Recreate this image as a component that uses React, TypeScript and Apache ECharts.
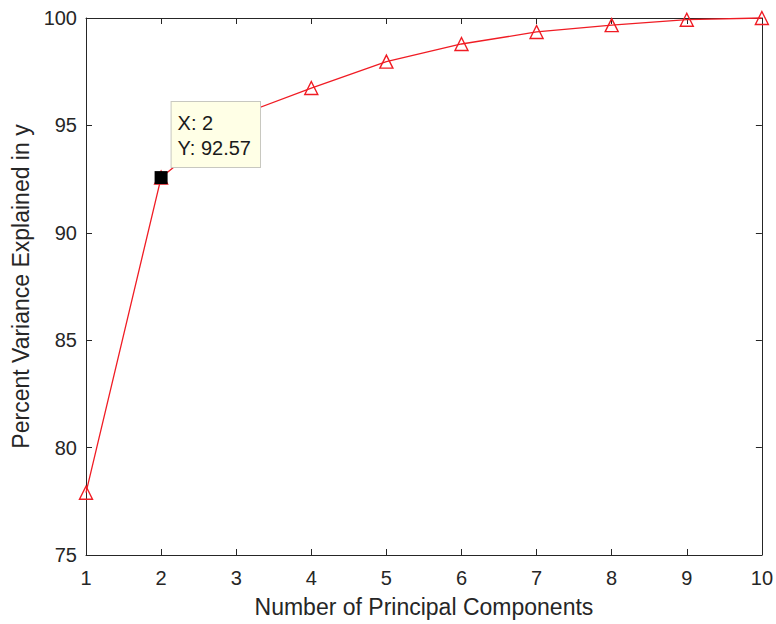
import React, { useEffect, useRef } from "react";
import * as echarts from "echarts";

const components = [1, 2, 3, 4, 5, 6, 7, 8, 9, 10];
const pctVariance = [77.9, 92.57, 95.42, 96.74, 97.97, 98.79, 99.35, 99.67, 99.92, 100];
const yTicks = { min: 75, max: 100, interval: 5 };
const xTicks = { min: 1, max: 10, interval: 1 };
const tipPoint = { x: 2, y: 92.57 };

const FONT = "'Liberation Sans', Arial, Helvetica, sans-serif";
const INK = "#262626";

export default function App() {
  const ref = useRef<HTMLDivElement>(null);
  useEffect(() => {
    if (!ref.current) return;
    const chart = echarts.init(ref.current, undefined, { renderer: "svg" });
    const axisCommon = {
      type: "value" as const,
      axisLine: { show: true, onZero: false, lineStyle: { color: INK, width: 1 } },
      axisTick: { show: true, inside: true, length: 6, lineStyle: { color: INK, width: 1 } },
      splitLine: { show: false },
    };
    chart.setOption({
      animation: false,
      backgroundColor: "#ffffff",
      textStyle: { fontFamily: FONT },
      grid: { left: 86, right: 9, top: 18, bottom: 69, containLabel: false },
      xAxis: [
        {
          ...axisCommon,
          position: "bottom",
          min: xTicks.min,
          max: xTicks.max,
          interval: xTicks.interval,
          name: "Number of Principal Components",
          nameLocation: "middle",
          nameGap: 40,
          nameTextStyle: { color: INK, fontSize: 23, fontFamily: FONT },
          axisLabel: { color: INK, fontSize: 20, margin: 13, fontFamily: FONT },
        },
        {
          ...axisCommon,
          position: "top",
          min: xTicks.min,
          max: xTicks.max,
          interval: xTicks.interval,
          axisLabel: { show: false },
        },
      ],
      yAxis: [
        {
          ...axisCommon,
          position: "left",
          min: yTicks.min,
          max: yTicks.max,
          interval: yTicks.interval,
          name: "Percent Variance Explained in y",
          nameLocation: "middle",
          nameGap: 52,
          nameTextStyle: { color: INK, fontSize: 23, fontFamily: FONT },
          axisLabel: { color: INK, fontSize: 20, margin: 9, fontFamily: FONT },
        },
        {
          ...axisCommon,
          position: "right",
          min: yTicks.min,
          max: yTicks.max,
          interval: yTicks.interval,
          axisLabel: { show: false },
        },
      ],
      series: [
        {
          type: "line",
          xAxisIndex: 0,
          yAxisIndex: 0,
          data: components.map((c, i) => [c, pctVariance[i]]),
          clip: false,
          symbol: "triangle",
          symbolSize: 13,
          showAllSymbol: true,
          lineStyle: { color: "#f01c24", width: 1.3 },
          itemStyle: { color: "rgba(255,255,255,0)", borderColor: "#f01c24", borderWidth: 1.4 },
          emphasis: { disabled: true },
          markPoint: {
            symbol: "rect",
            symbolSize: 13,
            itemStyle: { color: "#000000" },
            data: [
              {
                coord: [tipPoint.x, tipPoint.y],
                value: tipPoint.y,
                label: {
                  show: true,
                  position: [17, -69],
                  align: "left",
                  verticalAlign: "top",
                  formatter: () => `X: ${tipPoint.x}\nY: ${tipPoint.y.toFixed(2)}`,
                  color: "#1a1a1a",
                  fontSize: 20,
                  fontFamily: FONT,
                  lineHeight: 25,
                  backgroundColor: "#ffffe6",
                  borderColor: "#c8c8c0",
                  borderWidth: 1,
                  padding: [8, 9, 7, 6],
                },
              },
            ],
          },
        },
      ],
    });
    return () => chart.dispose();
  }, []);
  return (
    <div
      ref={ref}
      style={{ position: "fixed", left: 0, top: 0, width: 776, height: 624, background: "#fff" }}
    />
  );
}
